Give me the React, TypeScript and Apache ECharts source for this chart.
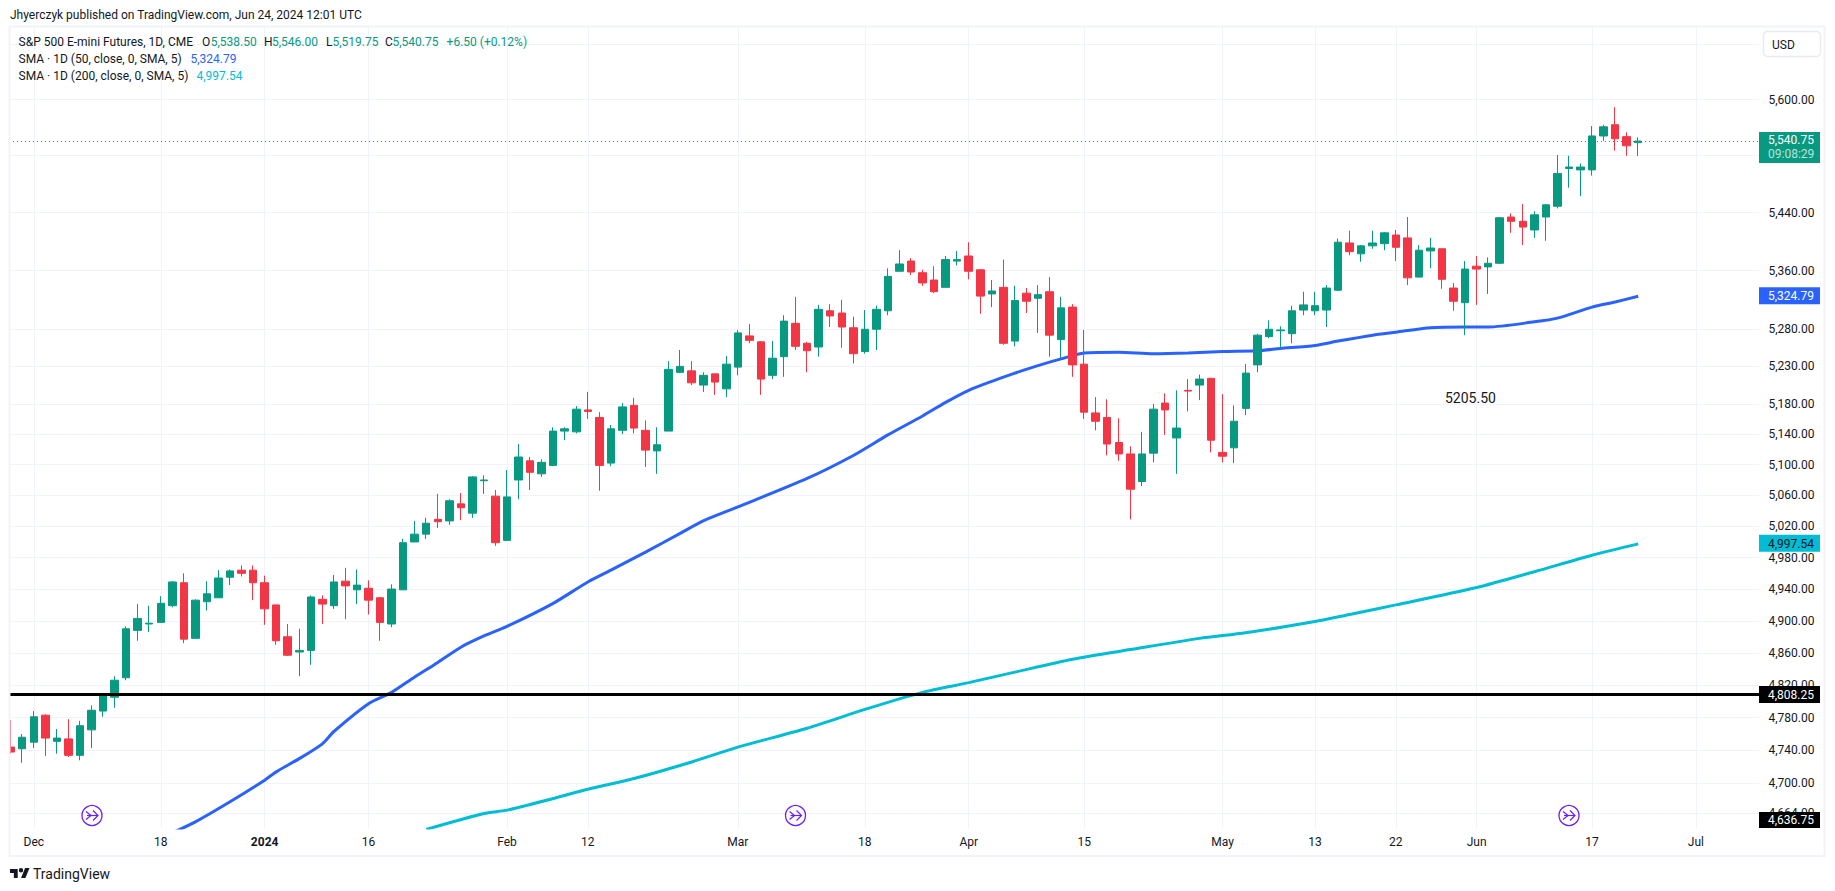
import React, { useEffect, useRef } from "react";
import * as echarts from "echarts";

const FONT = "Roboto, sans-serif";
const INK = "#131722";
const UP = "#089981";
const DOWN = "#f23645";
const BLUE = "#2962ff";
const CYAN = "#00bcd4";
const GRID = "#f0f3fa";

const dates = [
  "2023-11-29","2023-11-30","2023-12-01",
  "2023-12-04","2023-12-05","2023-12-06","2023-12-07","2023-12-08",
  "2023-12-11","2023-12-12","2023-12-13","2023-12-14","2023-12-15",
  "2023-12-18","2023-12-19","2023-12-20","2023-12-21","2023-12-22",
  "2023-12-26","2023-12-27","2023-12-28","2023-12-29",
  "2024-01-02","2024-01-03","2024-01-04","2024-01-05",
  "2024-01-08","2024-01-09","2024-01-10","2024-01-11","2024-01-12",
  "2024-01-16","2024-01-17","2024-01-18","2024-01-19",
  "2024-01-22","2024-01-23","2024-01-24","2024-01-25","2024-01-26",
  "2024-01-29","2024-01-30","2024-01-31","2024-02-01","2024-02-02",
  "2024-02-05","2024-02-06","2024-02-07","2024-02-08","2024-02-09",
  "2024-02-12","2024-02-13","2024-02-14","2024-02-15","2024-02-16",
  "2024-02-20","2024-02-21","2024-02-22","2024-02-23",
  "2024-02-26","2024-02-27","2024-02-28","2024-02-29","2024-03-01",
  "2024-03-04","2024-03-05","2024-03-06","2024-03-07","2024-03-08",
  "2024-03-11","2024-03-12","2024-03-13","2024-03-14","2024-03-15",
  "2024-03-18","2024-03-19","2024-03-20","2024-03-21","2024-03-22",
  "2024-03-25","2024-03-26","2024-03-27","2024-03-28",
  "2024-04-01","2024-04-02","2024-04-03","2024-04-04","2024-04-05",
  "2024-04-08","2024-04-09","2024-04-10","2024-04-11","2024-04-12",
  "2024-04-15","2024-04-16","2024-04-17","2024-04-18","2024-04-19",
  "2024-04-22","2024-04-23","2024-04-24","2024-04-25","2024-04-26",
  "2024-04-29","2024-04-30","2024-05-01","2024-05-02","2024-05-03",
  "2024-05-06","2024-05-07","2024-05-08","2024-05-09","2024-05-10",
  "2024-05-13","2024-05-14","2024-05-15","2024-05-16","2024-05-17",
  "2024-05-20","2024-05-21","2024-05-22","2024-05-23","2024-05-24",
  "2024-05-28","2024-05-29","2024-05-30","2024-05-31",
  "2024-06-03","2024-06-04","2024-06-05","2024-06-06","2024-06-07",
  "2024-06-10","2024-06-11","2024-06-12","2024-06-13","2024-06-14",
  "2024-06-17","2024-06-18","2024-06-20","2024-06-21","2024-06-24",
  "2024-06-25","2024-06-26","2024-06-27","2024-06-28",
  "2024-07-01","2024-07-02","2024-07-03","2024-07-05","2024-07-08","2024-07-09",
];

const tickDates = ["2023-12-01","2023-12-18","2024-01-02","2024-01-16","2024-02-01","2024-02-12","2024-03-01","2024-03-18","2024-04-01","2024-04-15","2024-05-01","2024-05-13","2024-05-22","2024-06-03","2024-06-17","2024-07-01"];
const tickLabels = ["Dec","18","2024","16","Feb","12","Mar","18","Apr","15","May","13","22","Jun","17","Jul"];

const priceGridLines = [5680,5600,5520,5440,5360,5280,5230,5180,5140,5100,5060,5020,4980,4940,4900,4860,4820,4780,4740,4700,4664];
const priceLabels = [5600,5440,5360,5280,5230,5180,5140,5100,5060,5020,4980,4940,4900,4860,4820,4780,4740,4700,4664];

// [open, close, low, high]
const candles = [
  [4744,4738,4736,4777],[4742,4756,4725,4760],[4750,4781,4743,4788],[4783,4755,4733,4784],
  [4751,4755,4736,4766],[4754,4734,4732,4778],[4734,4770,4728,4776],[4765,4789,4743,4795],
  [4788,4808,4781,4809],[4805,4826,4792,4831],[4829,4890,4826,4893],[4888,4903,4875,4921],
  [4896,4897,4886,4919],[4898,4922,4898,4931],[4919,4949,4917,4950],[4948,4877,4872,4960],
  [4878,4926,4878,4927],[4924,4934,4913,4950],[4929,4954,4929,4964],[4955,4963,4945,4965],
  [4964,4960,4956,4970],[4964,4948,4926,4970],[4948,4915,4895,4957],[4920,4875,4870,4920],
  [4880,4857,4856,4896],[4861,4863,4831,4890],[4863,4930,4845,4932],[4927,4921,4896,4932],
  [4919,4949,4915,4958],[4950,4944,4902,4967],[4939,4945,4921,4965],[4941,4926,4908,4951],
  [4929,4898,4875,4930],[4896,4940,4892,4946],[4939,4999,4939,5004],[5000,5010,5000,5027],
  [5010,5024,5004,5031],[5029,5026,5018,5062],[5027,5053,5022,5055],[5049,5044,5028,5063],
  [5037,5084,5031,5085],[5079,5080,5062,5086],[5059,4999,4995,5067],[5002,5058,5001,5093],
  [5080,5110,5055,5127],[5105,5090,5067,5110],[5088,5103,5084,5107],[5099,5144,5099,5149],
  [5144,5147,5132,5149],[5143,5173,5141,5177],[5172,5170,5160,5196],[5162,5099,5066,5169],
  [5102,5147,5098,5152],[5145,5176,5140,5181],[5178,5148,5141,5188],[5145,5119,5097,5158],
  [5118,5126,5088,5149],[5144,5226,5144,5237],[5222,5230,5221,5252],[5224,5208,5205,5237],
  [5205,5218,5196,5222],[5220,5209,5192,5220],[5200,5233,5189,5244],[5229,5275,5218,5279],
  [5271,5265,5261,5287],[5263,5213,5192,5264],[5218,5241,5213,5264],[5243,5291,5216,5299],
  [5288,5257,5252,5324],[5261,5251,5222,5263],[5256,5307,5243,5313],[5305,5298,5283,5314],
  [5302,5283,5255,5320],[5282,5247,5234,5297],[5250,5280,5247,5306],[5280,5307,5252,5312],
  [5305,5352,5299,5363],[5359,5369,5359,5388],[5373,5358,5354,5377],[5357,5343,5339,5361],
  [5347,5331,5329,5366],[5337,5375,5337,5380],[5373,5375,5367,5387],[5380,5359,5348,5399],
  [5361,5325,5301,5362],[5328,5332,5310,5347],[5337,5261,5259,5375],[5264,5319,5257,5339],
  [5329,5318,5302,5336],[5322,5327,5275,5340],[5331,5272,5243,5351],[5266,5309,5241,5324],
  [5310,5232,5216,5314],[5233,5169,5160,5279],[5168,5157,5145,5189],[5162,5127,5112,5186],
  [5129,5114,5105,5161],[5114,5068,5029,5124],[5078,5114,5072,5143],[5115,5173,5103,5180],
  [5181,5172,5139,5194],[5135,5148,5088,5198],[5198,5197,5170,5213],[5205,5213,5185,5219],
  [5214,5132,5116,5214],[5116,5111,5103,5193],[5122,5157,5102,5178],[5174,5221,5165,5233],
  [5232,5272,5222,5274],[5270,5280,5268,5292],[5278,5279,5255,5284],[5274,5305,5261,5312],
  [5306,5313,5299,5331],[5305,5312,5299,5331],[5306,5336,5283,5340],[5333,5399,5332,5404],
  [5398,5386,5381,5415],[5383,5394,5372,5395],[5394,5398,5390,5415],[5397,5412,5388,5413],
  [5409,5392,5373,5416],[5405,5350,5340,5434],[5351,5388,5351,5395],[5387,5391,5363,5405],
  [5390,5348,5335,5390],[5336,5318,5305,5343],[5316,5362,5272,5373],[5366,5362,5313,5380],
  [5365,5370,5328,5378],[5370,5433,5369,5434],[5434,5428,5412,5439],[5428,5420,5395,5452],
  [5416,5437,5405,5442],[5434,5451,5401,5452],[5449,5495,5446,5521],[5502,5504,5475,5520],
  [5500,5504,5463,5509],[5500,5548,5492,5562],[5548,5561,5541,5564],[5564,5544,5527,5589],
  [5547,5534,5520,5553],[5538.5,5540.75,5519.75,5546],
];

const sma50Index = [14,16,19,22,23,25,27,28,31,33,35,37,39,41,43,47,50,52,55,58,60,63,69,73,76,79,81,83,85,87,89,91,93,96,99,102,105,108,110,113,115,118,120,123,126,128,132,134,137,139,141];
const sma50Values = [4641,4654,4678,4704,4714,4730,4748,4763,4797,4811,4830,4848,4867,4881,4893,4922,4949,4964,4987,5011,5027,5045,5082,5112,5139,5164,5182,5198,5210,5221,5231,5240,5248,5249,5247,5248,5250,5251,5254,5258,5264,5272,5276,5282,5283,5283,5290,5295,5310,5317,5324.79];
const sma200Index = [36,41,43,47,50,54,59,63,69,74,79,83,87,92,97,103,107,113,116,120,127,132,137,141];
const sma200Values = [4645,4664,4668,4682,4693,4706,4726,4744,4767,4790,4811,4823,4836,4852,4864,4878,4885,4899,4908,4920,4942,4962,4983,4997.54];

const LAST_PRICE = 5540.75;
const HLINE_PRICE = 4808.25;
const publishLine = "Jhyerczyk published on TradingView.com, Jun 24, 2024 12:01 UTC";

const fmt = (v: number) => v.toLocaleString("en-US", { minimumFractionDigits: 2, maximumFractionDigits: 2 });
const pointsOf = (idx: number[], vals: number[]) => idx.map((i, k) => [i, vals[k]]);

const LEFT = 4.93, PLOT_RIGHT = 1759.4, TOP = 26, BOTTOM = 828;

function txt(x: number, y: number, text: string, fill: string, extra: any = {}) {
  return { type: "text", x, y, z: 30, silent: true, style: { text, fill, font: `12px ${FONT}`, textVerticalAlign: "middle", ...extra } };
}

function eventIcon(cx: number, cy: number) {
  return {
    type: "group", x: cx, y: cy, z: 25, silent: true,
    children: [
      { type: "circle", shape: { cx: 0, cy: 0, r: 10 }, style: { fill: "#fff", stroke: "#6a1fff", lineWidth: 1.3 } },
      { type: "polyline", shape: { points: [[-6, -4], [-1, 0], [-6, 4]] }, style: { fill: "none", stroke: "#6a1fff", lineWidth: 1.2 } },
      { type: "polyline", shape: { points: [[-5, 0], [6, 0]] }, style: { fill: "none", stroke: "#6a1fff", lineWidth: 1.2 } },
      { type: "polyline", shape: { points: [[1, -5], [6, 0], [1, 5]] }, style: { fill: "none", stroke: "#6a1fff", lineWidth: 1.2 } },
    ],
  };
}

export default function App() {
  const ref = useRef<HTMLDivElement>(null);
  useEffect(() => {
    document.body.style.margin = "0";
    document.body.style.background = "#fff";
    echarts.graphic.registerShape("tvLogo", echarts.graphic.extendPath("M14 6H0v7h7v9h7V6Z M28 22h-8l7.5-18h8L28 22Z M24 8a4 4 0 1 1-8 0a4 4 0 1 1 8 0Z", {}));
    const chart = echarts.init(ref.current!, null, { renderer: "svg", width: 1835, height: 891 });
    chart.setOption({
      animation: false,
      backgroundColor: "#fff",
      grid: { left: LEFT, top: TOP, width: PLOT_RIGHT - LEFT, height: BOTTOM - TOP, containLabel: false },
      xAxis: {
        type: "category",
        data: dates,
        boundaryGap: true,
        axisLine: { show: false },
        axisTick: { show: false },
        splitLine: {
          show: true,
          alignWithLabel: true,
          interval: (_: number, v: string) => tickDates.includes(v),
          lineStyle: { color: GRID, width: 1 },
        },
        axisLabel: {
          interval: (_: number, v: string) => tickDates.includes(v),
          hideOverlap: false,
          margin: 8,
          color: INK,
          fontFamily: FONT,
          fontSize: 12,
          formatter: (v: string) => {
            const l = tickLabels[tickDates.indexOf(v)];
            return l === "2024" ? `{b|${l}}` : l;
          },
          rich: { b: { fontWeight: "bold", fontFamily: FONT, fontSize: 12, color: INK } },
        },
      },
      yAxis: {
        type: "log",
        logBase: 10,
        position: "right",
        min: 4646.7,
        max: 5706.5,
        axisLine: { show: false },
        axisTick: { show: false, customValues: priceGridLines },
        splitLine: { show: true, lineStyle: { color: GRID, width: 1 } },
        axisLabel: {
          customValues: priceLabels,
          margin: 9,
          color: INK,
          fontFamily: FONT,
          fontSize: 12,
          formatter: (v: number) => fmt(v),
        },
      },
      series: [
        { type: "line", name: "SMA 200", z: 2, data: pointsOf(sma200Index, sma200Values), showSymbol: false, symbol: "none", smooth: 0.25, lineStyle: { color: CYAN, width: 3 } },
        { type: "line", name: "SMA 50", z: 2, data: pointsOf(sma50Index, sma50Values), showSymbol: false, symbol: "none", smooth: 0.25, lineStyle: { color: BLUE, width: 3 } },
        {
          type: "line", name: "last", z: 3, data: [], symbol: "none",
          markLine: { silent: true, symbol: "none", label: { show: false }, lineStyle: { color: UP, width: 1, type: [1, 3] }, data: [{ yAxis: LAST_PRICE }] },
        },
        {
          type: "candlestick", name: "ES", z: 4, data: candles, barWidth: 8,
          itemStyle: { color: UP, color0: DOWN, borderColor: UP, borderColor0: DOWN, borderWidth: 1 },
        },
        {
          type: "line", name: "level", z: 5, data: [], symbol: "none",
          markLine: { silent: true, symbol: "none", label: { show: false }, lineStyle: { color: "#000", width: 3, type: "solid" }, data: [{ yAxis: HLINE_PRICE }] },
        },
      ],
    });

    const py = (v: number) => chart.convertToPixel({ yAxisIndex: 0 }, v) as number;
    const TAG_X = 1759, TAG_W = 61, TAG_TX = 1768;
    const tag = (y0: number, h: number, fill: string) => ({ type: "rect", z: 20, silent: true, shape: { x: TAG_X, y: y0, width: TAG_W, height: h }, style: { fill } });
    const sma50Y = py(sma50Values[sma50Values.length - 1]);
    const sma200Y = py(sma200Values[sma200Values.length - 1]);
    const levelY = py(HLINE_PRICE);
    const lastY = py(LAST_PRICE);

    chart.setOption({
      graphic: [
        { type: "rect", z: 18, silent: true, shape: { x: 0, y: 0, width: 9, height: 891 }, style: { fill: "#fff" } },
        { type: "rect", z: 19, silent: true, shape: { x: 9.5, y: 26.5, width: 1815, height: 829.5 }, style: { fill: "none", stroke: GRID, lineWidth: 2 } },

        txt(10, 15, publishLine, INK),
        txt(18.6, 42, "S&P 500 E-mini Futures, 1D, CME", INK),
        txt(202, 42, "O", INK), txt(210.7, 42, "5,538.50", UP),
        txt(264, 42, "H", INK), txt(272, 42, "5,546.00", UP),
        txt(326, 42, "L", INK), txt(332.4, 42, "5,519.75", UP),
        txt(385, 42, "C", INK), txt(392.5, 42, "5,540.75", UP),
        txt(446.6, 42, "+6.50 (+0.12%)", UP),
        txt(18.6, 59, "SMA · 1D (50, close, 0, SMA, 5)", INK), txt(190.5, 59, fmt(sma50Values[sma50Values.length - 1]), BLUE),
        txt(18.6, 76, "SMA · 1D (200, close, 0, SMA, 5)", INK), txt(196.4, 76, fmt(sma200Values[sma200Values.length - 1]), CYAN),

        { type: "rect", z: 20, silent: true, shape: { x: 1763.5, y: 31.5, width: 57, height: 25, r: 4 }, style: { fill: "#fff", stroke: "#e8eaf0", lineWidth: 1.5 } },
        txt(1772, 44.5, "USD", INK),

        tag(132, 31, UP),
        txt(TAG_TX, lastY - 1, fmt(LAST_PRICE), "#fff"),
        txt(TAG_TX, lastY + 13, "09:08:29", "#b9e3da"),
        tag(sma50Y - 9, 17, BLUE), txt(TAG_TX, sma50Y, fmt(sma50Values[sma50Values.length - 1]), "#fff"),
        tag(sma200Y - 9, 17, CYAN), txt(TAG_TX, sma200Y, fmt(sma200Values[sma200Values.length - 1]), INK),
        tag(levelY - 8.5, 17, "#000"), txt(TAG_TX, levelY, fmt(HLINE_PRICE), "#fff"),
        tag(812, 16, "#000"), txt(TAG_TX, 820, "4,636.75", "#fff"),

        txt(1445, 398, "5205.50", INK, { font: `14px ${FONT}` }),

        eventIcon(92, 815.5), eventIcon(795.5, 815.5), eventIcon(1569, 815.5),

        { type: "tvLogo", x: 10, y: 865.8, scaleX: 0.55, scaleY: 0.55, z: 30, silent: true, style: { fill: INK } },
        txt(33, 873.5, "TradingView", INK, { font: `14px ${FONT}` }),
      ],
    });
    return () => chart.dispose();
  }, []);
  return <div ref={ref} style={{ position: "fixed", left: 0, top: 0, width: 1835, height: 891, background: "#fff" }} />;
}
